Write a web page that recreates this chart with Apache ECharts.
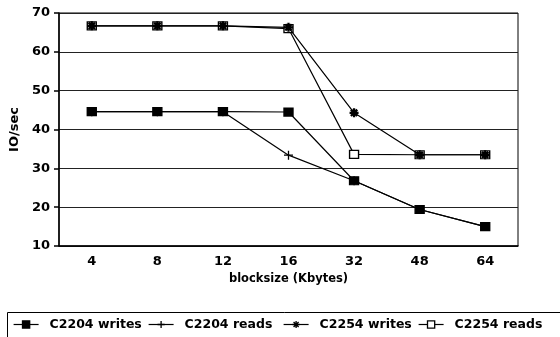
<!DOCTYPE html>
<html><head><meta charset="utf-8">
<script src="https://cdn.jsdelivr.net/npm/echarts@6/dist/echarts.min.js"></script>
<style>html,body{margin:0;padding:0;background:#fff}#c{width:560px;height:337px}</style>
</head><body><div id="c"></div>
<script>
const categories = ['4','8','12','16','32','48','64'];
const c2204Writes = [44.6, 44.6, 44.6, 44.5, 26.8, 19.4, 15.0];
const c2204Reads  = [44.6, 44.6, 44.6, 33.4, 26.8, 19.4, 15.0];
const c2254Writes = [66.7, 66.7, 66.7, 66.3, 44.3, 33.5, 33.5];
const c2254Reads  = [66.7, 66.7, 66.7, 66.0, 33.6, 33.5, 33.5];
const yTicks = {min: 10, max: 70, interval: 10};

const FONT = 'DejaVu Sans';
const plusPath = 'path://M0,5L10,5M5,0L5,10';
const starPath = 'path://M0,5L10,5M5,0L5,10M1.5,1.5L8.5,8.5M1.5,8.5L8.5,1.5';
const boxPath = 'path://M0,0L10,0L10,9L0,9Z';

function ser(name, data, symbol, size, z, itemStyle) {
  return {
    name, type: 'line', data, symbol, symbolSize: size, z,
    showAllSymbol: true,
    lineStyle: {color: '#000', width: 1.2},
    itemStyle: Object.assign({color: '#000', borderColor: '#000', borderWidth: 1.3}, itemStyle || {}),
    animation: false
  };
}

const chart = echarts.init(document.getElementById('c'), null, {renderer: 'canvas'});
function legend(name, left) {
  return {
    data: [name], left, top: 318, padding: 0, itemWidth: 25, itemHeight: 9,
    itemStyle: {borderColor: '#000', borderWidth: 1.3},
    lineStyle: {color: '#000', width: 1.2, type: 'solid'},
    textStyle: {fontFamily: FONT, fontWeight: 'bold', fontSize: 12.5, color: '#000', padding: [0,0,0,6]}
  };
}
chart.setOption({
  animation: false,
  grid: {left: 53, right: 42, top: 13, bottom: 91, show: true, borderColor: '#000', borderWidth: 1},
  xAxis: {
    type: 'category', data: categories, boundaryGap: true,
    name: 'blocksize (Kbytes)', nameLocation: 'middle', nameGap: 25,
    nameTextStyle: {fontFamily: FONT, fontWeight: 'bold', fontSize: 11.5, color: '#000'},
    axisLine: {lineStyle: {color: '#000', width: 1.5}},
    axisTick: {alignWithLabel: true, length: 5, lineStyle: {color: '#000', width: 1.5}},
    axisLabel: {fontFamily: FONT, fontWeight: 'bold', fontSize: 13, color: '#000', margin: 9},
    splitLine: {show: false}
  },
  yAxis: {
    type: 'value', min: yTicks.min, max: yTicks.max, interval: yTicks.interval,
    name: 'IO/sec', nameLocation: 'middle', nameGap: 37,
    nameTextStyle: {fontFamily: FONT, fontWeight: 'bold', fontSize: 13, color: '#000'},
    axisLine: {show: true, lineStyle: {color: '#000', width: 1.5}},
    axisTick: {show: true, length: 5, lineStyle: {color: '#000', width: 1.5}},
    axisLabel: {fontFamily: FONT, fontWeight: 'bold', fontSize: 13, color: '#000', margin: 9},
    splitLine: {lineStyle: {color: '#222', width: 1.2}}
  },
  legend: [
    legend('C2204 writes', 13),
    legend('C2204 reads', 148),
    legend('C2254 writes', 283),
    legend('C2254 reads', 418)
  ],
  graphic: [{
    type: 'rect', shape: {x: 7.5, y: 312.5, width: 600, height: 60},
    style: {fill: 'none', stroke: '#000', lineWidth: 1}, silent: true
  }],
  series: [
    ser('C2204 reads', c2204Reads, plusPath, 9, 2, {color: 'none'}),
    ser('C2204 writes', c2204Writes, 'rect', [9, 8], 3),
    ser('C2254 reads', c2254Reads, boxPath, [9, 8], 4, {color: '#fff'}),
    ser('C2254 writes', c2254Writes, starPath, 9, 5, {color: 'none', borderWidth: 2.3})
  ]
});
</script></body></html>
